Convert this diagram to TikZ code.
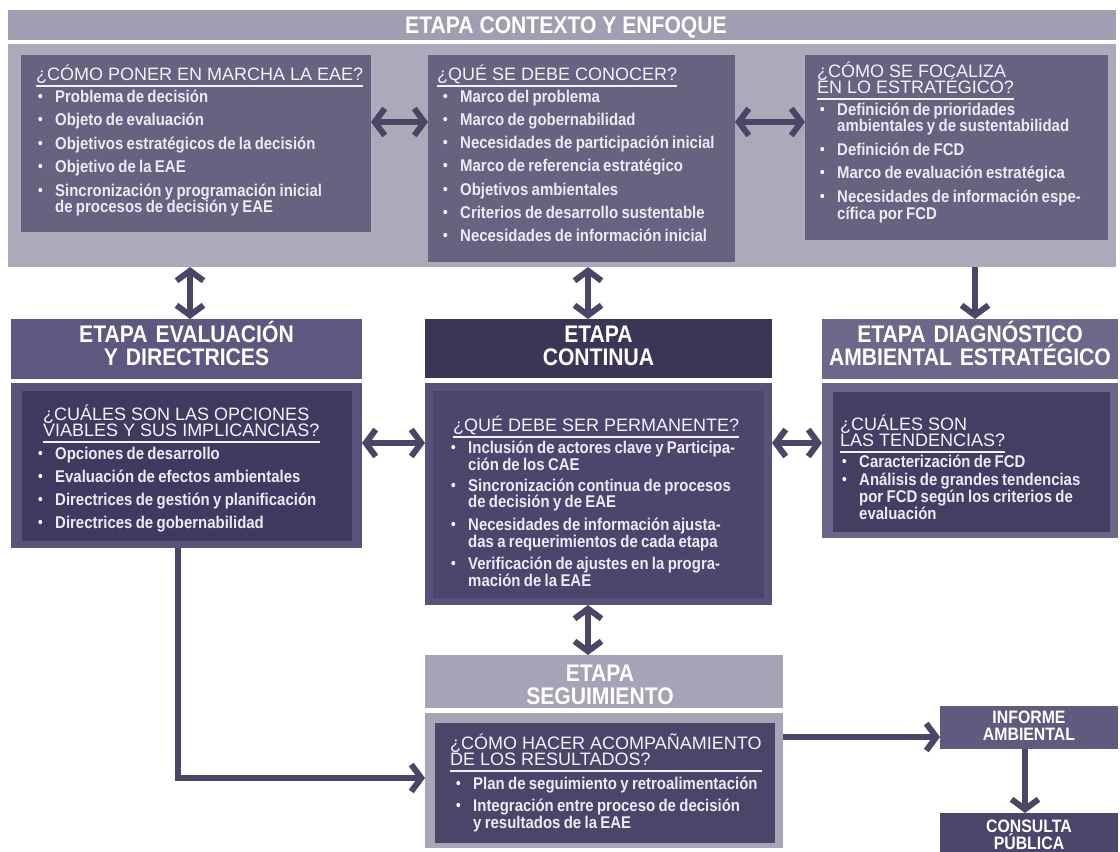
\documentclass[tikz,border=0pt]{standalone}
\usepackage{fontspec}
\setmainfont{Liberation Sans}[FakeStretch=0.88]
\newfontfamily\titfont{Liberation Sans}
\usetikzlibrary{arrows.meta,calc}

\definecolor{bandbg}{HTML}{ACA9BB}
\definecolor{bandhead}{HTML}{A19EB2}
\definecolor{qbox}{HTML}{67627F}
\definecolor{arrowc}{HTML}{4A4665}
\definecolor{evhd}{HTML}{5C5880}
\definecolor{evfr}{HTML}{57537A}
\definecolor{evin}{HTML}{3F3B60}
\definecolor{cohd}{HTML}{3A3656}
\definecolor{cofr}{HTML}{57527A}
\definecolor{coin}{HTML}{4B466B}
\definecolor{dihd}{HTML}{6C6889}
\definecolor{difr}{HTML}{6A6688}
\definecolor{diin}{HTML}{433F63}
\definecolor{sehd}{HTML}{A6A3B7}
\definecolor{sefr}{HTML}{A8A5B8}
\definecolor{sein}{HTML}{4A4669}
\definecolor{infc}{HTML}{5F5B7F}
\definecolor{conc}{HTML}{4A4669}
\definecolor{titc}{HTML}{F3F1F9}
\definecolor{itmc}{HTML}{ECEAF5}

\setlength{\lineskiplimit}{-40pt}

% bullet lists with hanging indent
\newlength\bulw \setlength\bulw{17pt}
\newlength\itgap
\newcommand\bstart{\noindent\hangindent=\bulw\hangafter=1\makebox[\bulw][l]{\raisebox{1pt}{\color{white}\fontsize{15}{15}\selectfont\textbullet}}}
\newcommand\bi{\par\vspace{\itgap}\bstart}
\newcommand\bend{\par}
\newcommand\listsetup[2]{\fontsize{17}{#1}\selectfont\setlength\itgap{#2}}

\tikzset{
  panel/.style={draw=none, inner sep=0pt, outer sep=0pt, anchor=north west},
  hdtext/.style={text=white, font=\bfseries\fontsize{24}{23.5}\selectfont, align=center, inner sep=0pt, anchor=base},
  smhd/.style={text=white, font=\bfseries\fontsize{18}{17.5}\selectfont, align=center, inner sep=0pt, anchor=base, text width=178pt},
  qtitle/.style={text=titc, font=\titfont\fontsize{18}{16}\selectfont, align=left, inner sep=0pt, anchor=base west},
  itemlist/.style={text=itmc, font=\bfseries, inner sep=0pt, anchor=base west, text width=330pt, align=left},
  uline/.style={draw=titc, line width=1.3pt},
  link/.style={draw=arrowc, line width=6pt},
  tip/.tip={Straight Barb[length=10pt,width=27pt]},
  both/.style={link, tip-tip},
  fwd/.style={link, -tip},
}

\begin{document}
\begin{tikzpicture}[x=1pt,y=-1pt]
\useasboundingbox (0,0) rectangle (1120,852);
\clip (0,0) rectangle (1120,852);
\fill[white] (0,0) rectangle (1120,852);

% ---------- Etapa contexto y enfoque ----------
\node[panel, fill=bandhead, minimum width=1108pt, minimum height=30pt] (ctxhead) at (8,10) {};
\node[panel, fill=bandbg, minimum width=1108pt, minimum height=223pt] (ctxbody) at (8,44) {};
\node[hdtext] (ctxtext) at (566,33) {ETAPA CONTEXTO Y ENFOQUE};

\node[panel, fill=qbox, minimum width=350pt, minimum height=177pt] (qa) at (21,55) {};
\node[panel, fill=qbox, minimum width=307pt, minimum height=207pt] (qb) at (428,55) {};
\node[panel, fill=qbox, minimum width=303pt, minimum height=185pt] (qc) at (805,55) {};

% single-line titles sit on their baseline, two-line titles on the last one
\node[qtitle] (qatit) at (36,80) {¿CÓMO PONER EN MARCHA LA EAE?};
\coordinate (qau) at (0,86);
\draw[uline] (qatit.west |- qau) -- (qatit.east |- qau);
\node[itemlist] (qalist) at (38,102) {\listsetup{16.5pt}{7pt}%
\bstart Problema de decisión
\bi Objeto de evaluación
\bi Objetivos estratégicos de la decisión
\bi Objetivo de la EAE
\bi Sincronización y programación inicial\newline de procesos de decisión y EAE\bend};

\node[qtitle] (qbtit) at (437,80) {¿QUÉ SE DEBE CONOCER?};
\coordinate (qbu) at (0,86);
\draw[uline] (qbtit.west |- qbu) -- (qbtit.east |- qbu);
\node[itemlist] (qblist) at (443,102) {\listsetup{16.5pt}{6.8pt}%
\bstart Marco del problema
\bi Marco de gobernabilidad
\bi Necesidades de participación inicial
\bi Marco de referencia estratégico
\bi Objetivos ambientales
\bi Criterios de desarrollo sustentable
\bi Necesidades de información inicial\bend};

\node[qtitle] (qctit) at (817,93) {¿CÓMO SE FOCALIZA\\EN LO ESTRATÉGICO?};
\coordinate (qcu) at (0,99);
\draw[uline] (qctit.west |- qcu) -- (qctit.east |- qcu);
\node[itemlist] (qclist) at (820,115) {\listsetup{15.5pt}{7pt}%
\bstart Definición de prioridades\newline ambientales y de sustentabilidad
\bi Definición de FCD
\bi Marco de evaluación estratégica
\bi Necesidades de información espe-\newline cífica por FCD\bend};

% ---------- Etapa evaluación y directrices ----------
\node[panel, fill=evhd, minimum width=351pt, minimum height=60pt] (evhead) at (11,319) {};
\node[panel, fill=evfr, minimum width=351pt, minimum height=165pt] (evbody) at (11,383) {};
\node[panel, fill=evin, minimum width=330pt, minimum height=150pt] (evinner) at (22,391) {};
\node[hdtext, text width=351pt] (evtext) at (186.5,342) {ETAPA EVALUACIÓN\\Y DIRECTRICES};
\node[qtitle] (evtit) at (43,436) {¿CUÁLES SON LAS OPCIONES\\VIABLES Y SUS IMPLICANCIAS?};
\coordinate (evu) at (0,442);
\draw[uline] (evtit.west |- evu) -- (evtit.east |- evu);
\node[itemlist] (evlist) at (38,459) {\listsetup{16pt}{7pt}%
\bstart Opciones de desarrollo
\bi Evaluación de efectos ambientales
\bi Directrices de gestión y planificación
\bi Directrices de gobernabilidad\bend};

% ---------- Etapa continua ----------
\node[panel, fill=cohd, minimum width=347pt, minimum height=59pt] (cohead) at (425,319) {};
\node[panel, fill=cofr, minimum width=347pt, minimum height=222pt] (cobody) at (425,383) {};
\node[panel, fill=coin, minimum width=331pt, minimum height=207pt] (coinner) at (433,391) {};
\node[hdtext, text width=347pt] (cotext) at (598.5,342) {ETAPA\\CONTINUA};
\node[qtitle] (cotit) at (453,431) {¿QUÉ DEBE SER PERMANENTE?};
\coordinate (cou) at (0,437);
\draw[uline] (cotit.west |- cou) -- (cotit.east |- cou);
\node[itemlist] (colist) at (451,453) {\listsetup{15.5pt}{5.5pt}%
\bstart Inclusión de actores clave y Participa-\newline ción de los CAE
\bi Sincronización continua de procesos\newline de decisión y de EAE
\bi Necesidades de información ajusta-\newline das a requerimientos de cada etapa
\bi Verificación de ajustes en la progra-\newline mación de la EAE\bend};

% ---------- Etapa diagnóstico ambiental estratégico ----------
\node[panel, fill=dihd, minimum width=296pt, minimum height=60pt] (dihead) at (822,319) {};
\node[panel, fill=difr, minimum width=296pt, minimum height=155pt] (dibody) at (822,383) {};
\node[panel, fill=diin, minimum width=277pt, minimum height=140pt] (diinner) at (833,392) {};
\node[hdtext, text width=296pt] (ditext) at (970,342) {ETAPA DIAGNÓSTICO\\AMBIENTAL ESTRATÉGICO};
\node[qtitle] (ditit) at (840,446) {¿CUÁLES SON\\LAS TENDENCIAS?};
\coordinate (diu) at (0,452);
\draw[uline] (ditit.west |- diu) -- (ditit.east |- diu);
\node[itemlist] (dilist) at (842,467) {\listsetup{14.5pt}{4pt}%
\bstart Caracterización de FCD
\bi Análisis de grandes tendencias\newline por FCD según los criterios de\newline evaluación\bend};

% ---------- Etapa seguimiento ----------
\node[panel, fill=sehd, minimum width=358pt, minimum height=53pt] (sehead) at (425,655) {};
\node[panel, fill=sefr, minimum width=358pt, minimum height=135pt] (sebody) at (425,713) {};
\node[panel, fill=sein, minimum width=340pt, minimum height=120pt] (seinner) at (435,723) {};
\node[hdtext, text width=358pt] (setext) at (600,681) {ETAPA\\SEGUIMIENTO};
\node[qtitle] (setit) at (450,765) {¿CÓMO HACER ACOMPAÑAMIENTO\\DE LOS RESULTADOS?};
\coordinate (seu) at (0,771);
\draw[uline] (setit.west |- seu) -- (setit.east |- seu);
\node[itemlist] (selist) at (456,789) {\listsetup{15pt}{5pt}%
\bstart Plan de seguimiento y retroalimentación
\bi Integración entre proceso de decisión\newline y resultados de la EAE\bend};

% ---------- Informe y consulta ----------
\node[panel, fill=infc, minimum width=178pt, minimum height=43pt] (inf) at (940,706) {};
\node[smhd] (inftext) at (1029,723) {INFORME\\AMBIENTAL};
\node[panel, fill=conc, minimum width=178pt, minimum height=50pt] (con) at (940,813) {};
\node[smhd] (context) at (1029,832) {CONSULTA\\PÚBLICA};

% ---------- connectors ----------
\coordinate (rowA) at (0,122);
\coordinate (rowM) at (0,443);
\coordinate (rowL) at (0,778);
\coordinate (rowS) at (0,737);
\coordinate (colA) at (190,0);
\coordinate (colB) at (588,0);
\coordinate (colC) at (975,0);
\coordinate (colL) at (178,0);
\coordinate (colI) at (1025,0);

\draw[both] (qa.east |- rowA) -- (qb.west |- rowA);
\draw[both] (qb.east |- rowA) -- (qc.west |- rowA);
\draw[both] (ctxbody.south -| colA) -- (evhead.north -| colA);
\draw[both] (ctxbody.south -| colB) -- (cohead.north -| colB);
\draw[fwd] (ctxbody.south -| colC) -- (dihead.north -| colC);
\draw[both] (evbody.east |- rowM) -- (cobody.west |- rowM);
\draw[both] (cobody.east |- rowM) -- (dibody.west |- rowM);
\draw[both] (cobody.south -| colB) -- (sehead.north -| colB);
\draw[fwd] (evbody.south -| colL) |- (sebody.west |- rowL);
\draw[fwd] (sebody.east |- rowS) -- (inf.west |- rowS);
\draw[fwd] (inf.south -| colI) -- (con.north -| colI);
\end{tikzpicture}
\end{document}
